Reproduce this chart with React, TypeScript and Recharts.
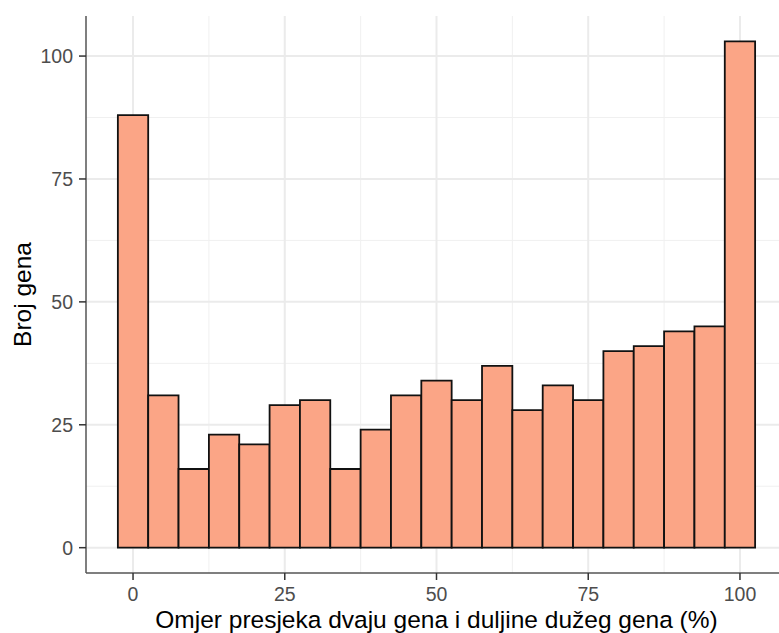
import { ComposedChart, Bar, XAxis, YAxis, CartesianGrid, Label } from 'recharts';

// histogram bins (centres, width 5) and counts
const binCenters = [0, 5, 10, 15, 20, 25, 30, 35, 40, 45, 50, 55, 60, 65, 70, 75, 80, 85, 90, 95, 100];
const counts = [88, 31, 16, 23, 21, 29, 30, 16, 24, 31, 34, 30, 37, 28, 33, 30, 40, 41, 44, 45, 103];
const xTicks = [0, 25, 50, 75, 100];
const yTicks = [0, 25, 50, 75, 100];
const xMinor = [12.5, 37.5, 62.5, 87.5];
const yMinor = [12.5, 37.5, 62.5, 87.5];

const data = binCenters.map((x, i) => ({ x, count: counts[i] }));

const W = 800;
const H = 633;
const margin = { top: 16, right: 13, bottom: 0, left: 0 };
const yAxisW = 86;
const xAxisH = 60;
const xDomain: [number, number] = [-7.75, 107.75];
const yDomain: [number, number] = [-5.15, 108.15];
const plotW = W - margin.left - margin.right - yAxisW;
// a hair under the bin width, otherwise recharts shrinks bars to 90%
const barSize = (5 * plotW) / (xDomain[1] - xDomain[0]) - 0.02;

const font = '"Liberation Sans", Arial, sans-serif';
const tickStyle = { fill: '#4d4d4d', fontSize: 19.5, fontFamily: font };

function YTitle(props: any) {
  const vb = props.viewBox || {};
  const cx = (vb.x ?? 0) + 22;
  const cy = (vb.y ?? margin.top) + (vb.height ?? 557) / 2;
  return (
    <text
      transform={`translate(${cx},${cy}) rotate(-90)`}
      textAnchor="middle"
      dominantBaseline="central"
      fontSize={24.5}
      fontFamily={font}
      fill="#000"
    >
      Broj gena
    </text>
  );
}

function XTitle(props: any) {
  const vb = props.viewBox || {};
  const cx = (vb.x ?? yAxisW) + (vb.width ?? plotW) / 2;
  const y = (vb.y ?? H - xAxisH) + 55;
  return (
    <text x={cx} y={y} textAnchor="middle" fontSize={24.5} fontFamily={font} fill="#000">
      Omjer presjeka dvaju gena i duljine dužeg gena (%)
    </text>
  );
}

export default function App() {
  return (
    <div style={{ position: 'fixed', left: 0, top: 0, width: 779, height: 633, overflow: 'hidden', background: '#fff' }}>
      <ComposedChart width={W} height={H} data={data} margin={margin} barGap={0} barCategoryGap={0}>
        <CartesianGrid stroke="#f0f0f0" strokeWidth={1} verticalValues={xMinor} horizontalValues={yMinor} />
        <CartesianGrid stroke="#ebebeb" strokeWidth={2} verticalValues={xTicks} horizontalValues={yTicks} />
        <XAxis
          dataKey="x"
          type="number"
          domain={xDomain}
          ticks={xTicks}
          allowDataOverflow
          height={xAxisH}
          tick={tickStyle}
          tickSize={7}
          tickMargin={7}
          stroke="#555"
          strokeWidth={1.5}
          tickLine={{ stroke: '#333', strokeWidth: 1.5 }}
        >
          <Label content={<XTitle />} />
        </XAxis>
        <XAxis
          xAxisId="top"
          dataKey="x"
          type="number"
          orientation="top"
          domain={xDomain}
          allowDataOverflow
          height={0}
          tick={false}
          tickLine={false}
          stroke="#555"
          strokeWidth={1.5}
        />
        <YAxis
          type="number"
          domain={yDomain}
          ticks={yTicks}
          allowDataOverflow
          width={yAxisW}
          tick={tickStyle}
          tickSize={7}
          tickMargin={6}
          stroke="#555"
          strokeWidth={1.5}
          tickLine={{ stroke: '#333', strokeWidth: 1.5 }}
        >
          <Label content={<YTitle />} />
        </YAxis>
        <Bar
          dataKey="count"
          barSize={barSize}
          fill="#fba586"
          stroke="#111"
          strokeWidth={1.8}
          isAnimationActive={false}
        />
      </ComposedChart>
    </div>
  );
}
